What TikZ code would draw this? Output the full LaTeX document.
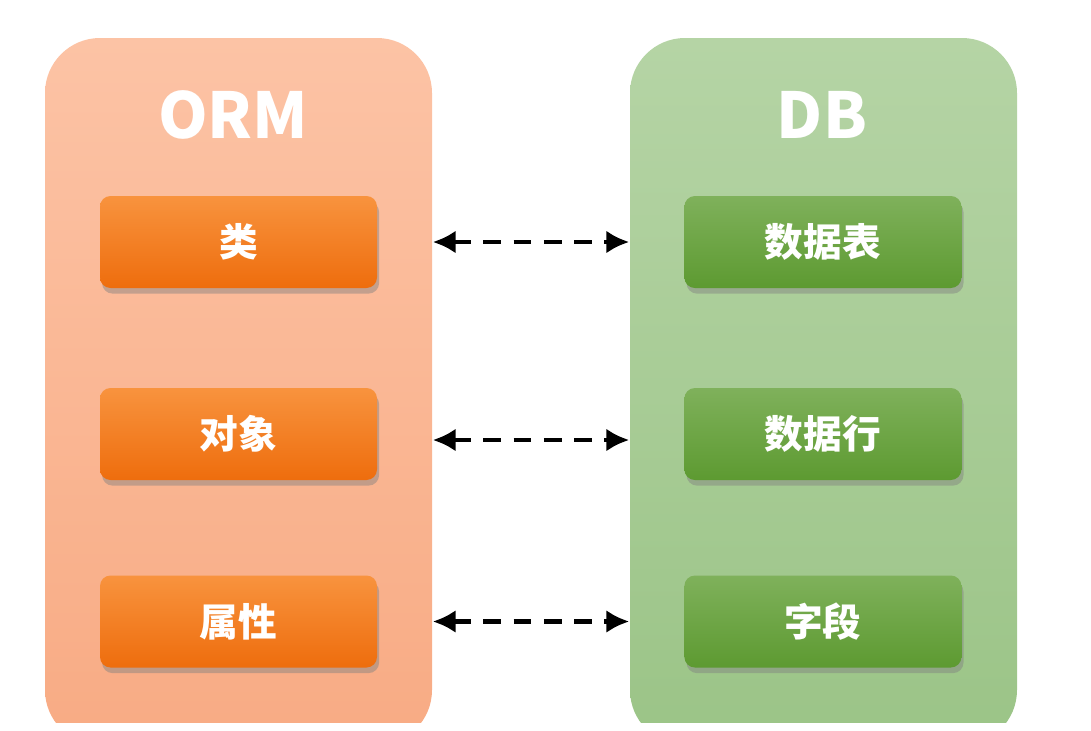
\documentclass[tikz,border=0pt]{standalone}
\usepackage{fontspec}
\newfontfamily\cjk{Noto Sans CJK SC}
\usetikzlibrary{arrows.meta,positioning,shadows}

\definecolor{ormtop}{HTML}{FCC3A5}
\definecolor{ormbot}{HTML}{F8AB84}
\definecolor{dbtop}{HTML}{B5D4A5}
\definecolor{dbbot}{HTML}{9BC487}
\definecolor{orangetop}{HTML}{F8933E}
\definecolor{orangebot}{HTML}{EE6D0D}
\definecolor{greentop}{HTML}{7FB15B}
\definecolor{greenbot}{HTML}{5D9A31}

\begin{document}
\begin{tikzpicture}[>=Latex, font=\cjk\bfseries,
  panel/.style={rounded corners=0.55cm, minimum width=3.87cm, minimum height=7.07cm},
  title/.style={text=white, font=\cjk\bfseries\fontsize{18}{22}\selectfont},
  item/.style={rounded corners=3pt, minimum width=2.77cm, minimum height=0.92cm,
    text=white, font=\cjk\bfseries\fontsize{11}{14}\selectfont,
    drop shadow={opacity=0.45, shadow xshift=0.6pt, shadow yshift=-1.6pt}},
  ormitem/.style={item, top color=orangetop, bottom color=orangebot},
  dbitem/.style={item, top color=greentop, bottom color=greenbot},
  link/.style={<->, line width=1.3pt, dash pattern=on 5pt off 3.6pt,
    >={Latex[length=6.5pt,width=6.5pt]}}]
\useasboundingbox (0,0) rectangle (10.91,-7.30);
% the two columns, cut off at the bottom
\begin{scope}
\clip (0,0) rectangle (10.91,-7.22);
\node[panel, top color=ormtop, bottom color=ormbot] (orm) at (2.385,-3.915) {};
\node[panel, top color=dbtop, bottom color=dbbot] (db) at (8.235,-3.915) {};
\end{scope}
\node[title] (ormtitle) at (2.33,-1.15) {ORM};
\node[title] (dbtitle) at (8.22,-1.15) {DB};
% mapped items
\node[ormitem] (cls) at (2.385,-2.42) {类};
\node[ormitem] (obj) at (2.385,-4.34) {对象};
\node[ormitem] (attr) at (2.385,-6.215) {属性};
\node[dbitem, right=3.06cm of cls] (table) {数据表};
\node[dbitem, right=3.06cm of obj] (row) {数据行};
\node[dbitem, right=3.06cm of attr] (field) {字段};
\draw[link] (cls.east -| orm.east) -- (table.west -| db.west);
\draw[link] ([yshift=-0.06cm]obj.east -| orm.east) -- ([yshift=-0.06cm]row.west -| db.west);
\draw[link] (attr.east -| orm.east) -- (field.west -| db.west);
\end{tikzpicture}
\end{document}
